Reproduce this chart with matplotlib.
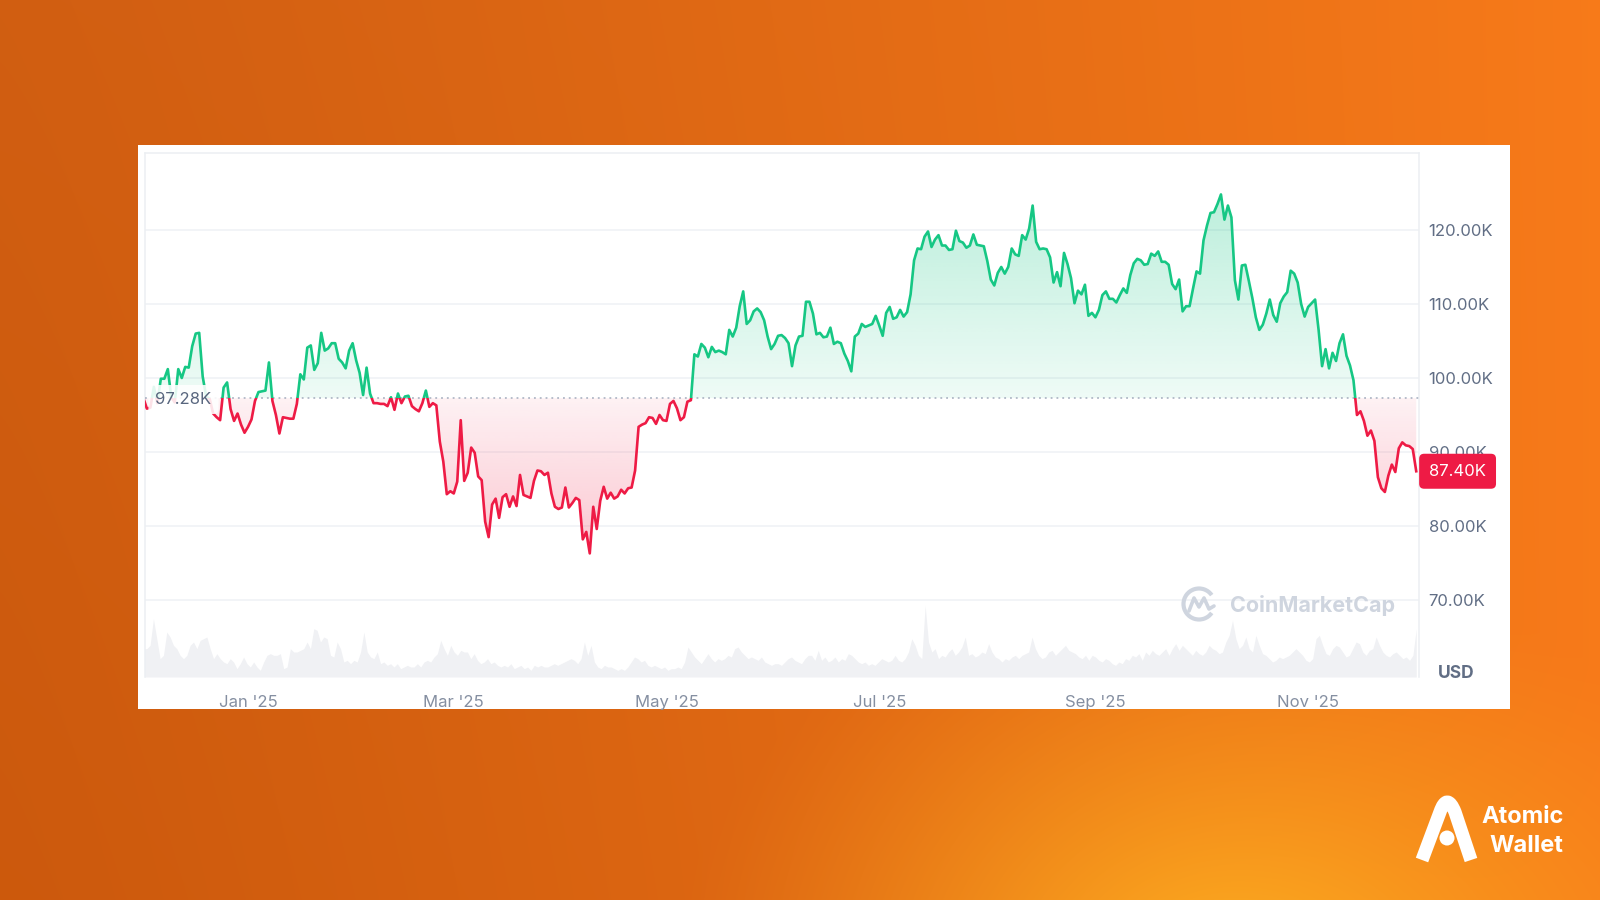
import numpy as np
import pandas as pd
import matplotlib
matplotlib.use("Agg")
import matplotlib.pyplot as plt
import matplotlib.dates as mdates
import matplotlib.transforms as mtransforms
from matplotlib.patches import Rectangle, Circle, Arc, PathPatch
from matplotlib.path import Path
from matplotlib.colors import to_rgb

plt.rcParams['font.family'] = ['Inter', 'DejaVu Sans']

# ---------------- data ----------------
start_date = "2024-12-02"
price_dec24 = [97.28, 95.86, 96.0, 98.8, 96.6, 99.9, 99.9, 101.2, 97.4, 96.7, 101.2, 100.0, 101.5, 101.4, 104.3,
               106.0, 106.1, 100.2, 97.5, 97.2, 95.2, 94.7, 94.3, 98.7, 99.4, 95.8, 94.2, 95.2, 93.7, 92.6]
price_jan25 = [93.4, 94.4, 96.9, 98.1, 98.2, 98.3, 102.1, 96.9, 95.0, 92.5, 94.7, 94.6, 94.5, 94.5, 96.5, 100.5,
               99.8, 104.1, 104.4, 101.1, 102.0, 106.1, 103.7, 104.0, 104.7, 104.7, 102.6, 102.1, 101.3, 103.7, 104.7]
price_feb25 = [102.4, 100.7, 97.7, 101.4, 97.9, 96.6, 96.6, 96.5, 96.5, 96.2, 97.4, 95.7, 97.9, 96.6, 97.5, 97.6,
               96.2, 95.8, 95.5, 96.6, 98.3, 96.1, 96.6, 96.3, 91.4, 88.7, 84.3, 84.7]
price_mar25 = [84.4, 86.0, 94.3, 86.1, 87.2, 90.6, 89.9, 86.7, 86.2, 80.6, 78.5, 82.9, 83.7, 81.1, 83.9, 84.3,
               82.6, 84.0, 82.7, 86.9, 84.2, 84.0, 83.8, 86.1, 87.5, 87.4, 86.9, 87.2, 84.4, 82.6, 82.3]
price_apr25 = [82.5, 85.2, 82.5, 83.1, 83.8, 83.5, 78.2, 79.2, 76.3, 82.6, 79.6, 83.4, 85.3, 83.7, 84.5, 83.7,
               84.0, 84.9, 84.4, 85.1, 85.2, 87.5, 93.4, 93.7, 93.9, 94.7, 94.6, 93.8, 95.0, 94.3]
price_may25 = [94.2, 96.5, 96.9, 95.9, 94.3, 94.7, 96.8, 97.0, 103.2, 102.9, 104.6, 104.1, 102.8, 104.2, 103.5,
               103.7, 103.5, 103.2, 106.5, 105.6, 106.8, 109.7, 111.7, 107.3, 107.8, 109.0, 109.4, 108.9, 107.8,
               105.6, 103.9]
price_jun25 = [104.6, 105.7, 105.8, 105.4, 104.7, 101.6, 104.4, 105.6, 105.7, 110.3, 110.3, 108.7, 105.9, 106.1,
               105.5, 105.6, 106.8, 104.6, 104.9, 104.7, 103.3, 102.3, 100.9, 105.6, 106.0, 107.3, 106.9, 107.1,
               107.3, 108.4]
price_jul25 = [107.1, 105.7, 108.8, 109.6, 108.0, 108.2, 109.2, 108.3, 108.9, 111.3, 115.9, 117.5, 117.4, 119.1,
               119.8, 117.7, 118.7, 119.3, 117.9, 117.9, 117.3, 117.4, 119.9, 118.5, 118.3, 117.6, 117.9, 119.4,
               118.0, 117.9, 117.8]
price_aug25 = [115.8, 113.3, 112.5, 114.2, 115.0, 114.1, 115.0, 117.5, 116.7, 116.5, 119.3, 118.7, 120.2, 123.3,
               118.4, 117.4, 117.5, 117.4, 116.3, 112.9, 114.3, 112.4, 116.9, 115.4, 113.5, 110.1, 111.8, 111.3,
               112.6, 108.4, 108.8]
price_sep25 = [108.2, 109.2, 111.2, 111.7, 110.7, 110.7, 110.2, 111.2, 112.1, 111.5, 113.9, 115.5, 116.1, 115.9,
               115.3, 115.4, 116.8, 116.5, 117.1, 115.7, 115.7, 115.3, 112.7, 112.0, 113.3, 109.0, 109.7, 109.7,
               112.1, 114.4]
price_oct25 = [114.1, 118.6, 120.6, 122.3, 122.4, 123.5, 124.8, 121.4, 123.3, 121.7, 113.2, 110.6, 115.2, 115.3,
               113.1, 110.8, 108.2, 106.5, 107.2, 108.7, 110.6, 108.5, 107.6, 110.1, 111.0, 111.6, 114.5, 114.1,
               112.9, 110.0, 108.3]
price_nov25 = [109.6, 110.1, 110.6, 106.5, 101.6, 103.9, 101.3, 103.4, 102.3, 104.7, 105.9, 103.0, 101.7, 99.7,
               95.0, 95.5, 94.2, 92.2, 92.9, 91.5, 86.6, 85.1, 84.6, 86.8, 88.3, 87.3, 90.5, 91.3, 90.9, 90.8]
price_dec25 = [90.4, 87.4]

# relative trading volume (arbitrary units), evenly spaced over the same period
volume_rel = [
    85, 85, 95, 175, 115, 55, 65, 135, 120, 95, 85, 65, 55, 65, 95, 105, 85, 110, 115, 120, 85, 55, 70, 55, 45,
    40, 55, 45, 25, 40, 60, 40, 30, 45, 30, 20, 45, 65, 70, 65, 65, 70, 25, 30, 85, 75, 75, 80, 85, 105, 85, 145,
    140, 105, 120, 115, 65, 60, 105, 85, 45, 50, 40, 50, 45, 75, 135, 75, 60, 55, 75, 40, 45, 35, 40, 30, 40, 25,
    30, 35, 30, 30, 40, 30, 45, 50, 45, 60, 70, 110, 85, 65, 95, 75, 65, 80, 75, 75, 55, 70, 50, 40, 45, 55, 40,
    45, 35, 30, 35, 30, 40, 25, 30, 35, 25, 30, 20, 35, 30, 35, 30, 30, 35, 40, 35, 40, 45, 50, 55,
    50, 40, 55, 105, 65, 95, 45, 30, 25, 35, 30, 30, 25, 20, 25, 20, 30, 45, 60, 55, 45, 50, 35, 30, 35, 30, 25,
    30, 20, 25, 25, 30, 25, 45, 90, 75, 60, 50, 40, 55, 70, 55, 45, 55, 50, 55, 65, 60, 85, 90, 75, 65, 55, 60,
    55, 50, 60, 45, 40, 35, 40, 40, 35, 45, 55, 60, 50, 45, 40, 55, 65, 65, 50, 80, 50, 60, 45, 50, 60, 45, 55,
    50, 70, 65, 55, 45, 40, 45, 35, 40, 35, 45, 55, 50, 45, 50, 65, 50, 45, 55, 75, 115, 95, 65, 55, 215, 105,
    75, 85, 55, 65, 60, 75, 85, 65, 75, 90, 120, 65, 70, 60, 65, 75, 70, 100, 75, 60, 55,
    45, 55, 50, 60, 65, 55, 65, 70, 75, 120, 85, 65, 55, 60, 75, 80, 65, 75, 85, 95, 80, 75, 70, 60, 55, 65, 50,
    65, 60, 50, 45, 55, 50, 40, 35, 45, 40, 55, 50, 65, 60, 70, 50, 75, 65, 80, 70, 65, 75, 85, 65, 85, 100, 80,
    95, 85, 75, 65, 80, 70, 65, 75, 95, 85, 80, 70, 75, 105, 125, 170, 115, 85, 95, 120, 85, 75, 125, 95, 70, 65,
    55, 45, 50, 60, 55, 60, 65, 75, 85, 75, 65, 50, 45, 55, 115, 125, 95, 70, 65, 85, 95, 90, 75, 60, 65, 85,
    105, 100, 75, 65, 80, 85, 120, 95, 75, 65, 60, 70, 75, 65, 55, 60, 50, 65, 145]

y_ticks = [70, 80, 90, 100, 110, 120]
x_tick_dates = ["2025-01-01", "2025-03-01", "2025-05-01", "2025-07-01", "2025-09-01", "2025-11-01"]
x_tick_labels = ["Jan '25", "Mar '25", "May '25", "Jul '25", "Sep '25", "Nov '25"]
currency = "USD"

prices = np.array(price_dec24 + price_jan25 + price_feb25 + price_mar25 + price_apr25 + price_may25 +
                  price_jun25 + price_jul25 + price_aug25 + price_sep25 + price_oct25 + price_nov25 + price_dec25)
dates = pd.date_range(start_date, periods=len(prices), freq="D")
xd = mdates.date2num(dates.to_pydatetime())
base = prices[0]
last = prices[-1]
xv = np.linspace(xd[0], xd[-1], len(volume_rel))

GREEN = "#16c784"
RED = "#ee1b45"

# ---------------- figure ----------------
W, H = 1600, 900
fig = plt.figure(figsize=(16, 9), dpi=100)

# background
bg = fig.add_axes([0, 0, 1, 1], zorder=0)
yy, xx = np.mgrid[0:H, 0:W]
fx = xx / W
fy = yy / H
c_left = np.array([0.82, 0.37, 0.07])
c_right = np.array([0.97, 0.48, 0.10])
img = c_left + (c_right - c_left) * (fx[..., None] ** 1.2)
img = img - 0.02 * fy[..., None] * (1 - fx[..., None])
d = np.sqrt(((xx - 1230) / 560.0) ** 2 + ((yy - 990) / 430.0) ** 2)
g = np.clip(1 - d, 0, 1) ** 1.3
glow = np.array([1.0, 0.70, 0.13])
img = img * (1 - g[..., None]) + glow * g[..., None]
img = np.clip(img, 0, 1)
bg.imshow(img, extent=(0, W, H, 0), aspect="auto", interpolation="bilinear")
bg.add_patch(Rectangle((138, 145), 1372, 564, facecolor="white", edgecolor="none"))
bg.set_xlim(0, W)
bg.set_ylim(H, 0)
bg.axis("off")

# axes geometry (pixels)
L, R, T, B = 145, 1419, 153, 677
pos = [L / W, (H - B) / H, (R - L) / W, (B - T) / H]
x_lo = mdates.date2num(pd.Timestamp("2024-12-02 11:00").to_pydatetime())
x_hi = mdates.date2num(pd.Timestamp("2025-12-02 19:00").to_pydatetime())

# volume
axv = fig.add_axes(pos, zorder=1)
axv.fill_between(xv, volume_rel, 0, color="#f0f1f4", linewidth=0)
axv.set_xlim(x_lo, x_hi)
axv.set_ylim(0, (B - T) * 3)
axv.axis("off")

# price
ax = fig.add_axes(pos, zorder=2)
ax.set_facecolor("none")
ax.set_xlim(x_lo, x_hi)
y_lo, y_hi = 59.6, 130.4
ax.set_ylim(y_lo, y_hi)


def grad_fill(above, color, a0, a1, extreme):
    where = prices >= base if above else prices <= base
    poly = ax.fill_between(xd, prices, base, where=where, interpolate=True,
                           facecolor="none", edgecolor="none", linewidth=0)
    comp = Path.make_compound_path(*poly.get_paths())
    n = 256
    t = np.linspace(0, 1, n)
    if not above:
        t = t[::-1]
    rgba = np.zeros((n, 2, 4))
    rgba[..., :3] = to_rgb(color)
    rgba[..., 3] = (a0 + (a1 - a0) * t)[:, None]
    if above:
        ext = (x_lo, x_hi, base, extreme)
    else:
        ext = (x_lo, x_hi, extreme, base)
    im = ax.imshow(rgba, extent=ext, origin="lower", aspect="auto", zorder=1.5, interpolation="bilinear")
    im.set_clip_path(comp, ax.transData)


grad_fill(True, GREEN, 0.07, 0.30, 126)
grad_fill(False, "#f23a5c", 0.07, 0.30, 75)
ax.set_xlim(x_lo, x_hi)
ax.set_ylim(y_lo, y_hi)

# line split at baseline (clip rectangles stay inside the plot area)
lg, = ax.plot(xd, prices, color=GREEN, lw=1.9, zorder=3, solid_joinstyle="round")
lr, = ax.plot(xd, prices, color=RED, lw=1.9, zorder=3, solid_joinstyle="round")
clip_up = Rectangle((x_lo, base), x_hi - x_lo, y_hi - base, transform=ax.transData)
clip_dn = Rectangle((x_lo, y_lo), x_hi - x_lo, base - y_lo, transform=ax.transData)
lg.set_clip_path(clip_up)
lr.set_clip_path(clip_dn)

ax.axhline(base, color="#a3acbd", lw=1.1, linestyle=(0, (1.2, 2.6)), zorder=2.8)

# grid / spines / ticks
ax.set_yticks(y_ticks)
ax.set_yticklabels([f"{v:.2f}K" for v in y_ticks])
ax.yaxis.tick_right()
ax.grid(axis="y", color="#eff1f5", lw=1.1, zorder=0)
ax.set_axisbelow(True)
ax.tick_params(axis="y", length=0, pad=7, labelsize=12, labelcolor="#616e85")
ax.set_xticks(mdates.date2num(pd.to_datetime(x_tick_dates).to_pydatetime()))
ax.set_xticklabels(x_tick_labels)
ax.tick_params(axis="x", length=0, pad=13, labelsize=12, labelcolor="#858fa1")
for s in ["left", "top", "right"]:
    ax.spines[s].set_color("#eceff3")
    ax.spines[s].set_linewidth(1.1)
ax.spines["bottom"].set_visible(False)

# baseline label
blend = mtransforms.blended_transform_factory(ax.transAxes, ax.transData)
ax.annotate(f"{base:.2f}K", xy=(0, base), xycoords=blend, xytext=(7.5, -1), textcoords="offset points",
            ha="left", va="center", fontsize=12, color="#58667e", zorder=6, annotation_clip=False,
            bbox=dict(boxstyle="round,pad=0.42,rounding_size=0.3", fc="white", ec="none", alpha=0.88))

# last price tag
ax.annotate(f"{last:.2f}K", xy=(1, last), xycoords=blend, xytext=(7.3, 0), textcoords="offset points",
            ha="left", va="center", fontsize=12, color="white", zorder=10, annotation_clip=False,
            bbox=dict(boxstyle="round,pad=0.6,rounding_size=0.3", fc=RED, ec="none"))

# foreground decorations (pixel coordinates)
fg = fig.add_axes([0, 0, 1, 1], zorder=5)
fg.set_xlim(0, W)
fg.set_ylim(H, 0)
fg.axis("off")
fg.patch.set_visible(False)

fg.text(1456, 674, currency, ha="center", va="center", fontsize=12.5, fontweight="bold", color="#616e85")

# CoinMarketCap watermark
wm = "#cfd5df"
fg.add_patch(Arc((1199, 604), 31, 31, theta1=35, theta2=325, lw=3, color=wm))
fg.plot([1189, 1194, 1199, 1204, 1209, 1214], [611, 598, 607, 598, 609, 606], color=wm, lw=2.6,
        solid_joinstyle="round", solid_capstyle="round")
fg.text(1230, 605, "CoinMarketCap", ha="left", va="center", fontsize=15.5, fontweight="bold", color=wm)

# Atomic Wallet logo
verts = [(1422, 860), (1440, 812), (1447, 792), (1455, 812), (1471, 860)]
codes = [Path.MOVETO, Path.LINETO, Path.CURVE3, Path.CURVE3, Path.LINETO]
fg.add_patch(PathPatch(Path(verts, codes), facecolor="none", edgecolor="white", lw=9.5,
                       capstyle="butt", joinstyle="round"))
fg.add_patch(Circle((1447, 838), 7.5, facecolor="white", edgecolor="none"))
fg.text(1481, 817, "Atomic", ha="left", va="center", fontsize=17, fontweight="bold", color="white")
fg.text(1489, 846, "Wallet", ha="left", va="center", fontsize=17, fontweight="bold", color="white")

fig.savefig("out.png", dpi=100)
